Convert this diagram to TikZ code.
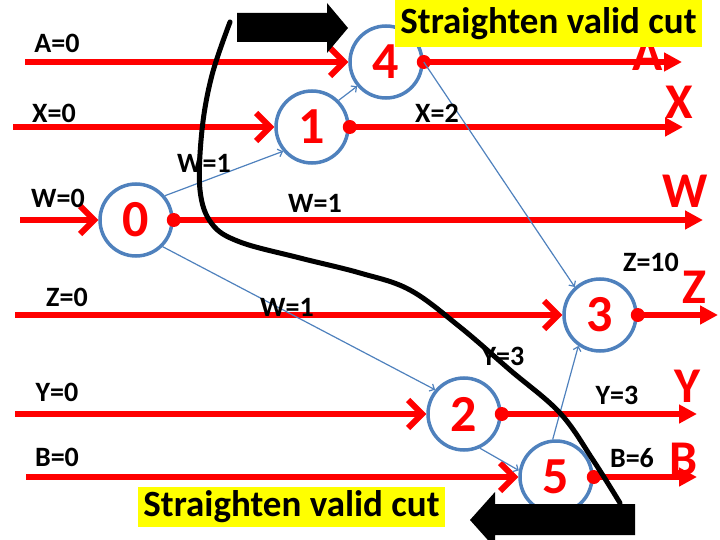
\documentclass[tikz,border=0pt]{standalone}
\usepackage{fontspec}
\setmainfont{Carlito}
\usepackage{tikz}
\usetikzlibrary{arrows.meta}
\definecolor{ringblue}{HTML}{4F81BD}
\definecolor{flowred}{HTML}{FF0000}
\definecolor{notey}{HTML}{FFFF00}

\begin{document}
\begin{tikzpicture}[x=1pt,y=-1pt,
  vertex/.style={circle,draw=ringblue,line width=3.5pt,minimum size=72pt,inner sep=0pt,text=flowred,font=\fontsize{52}{52}\selectfont\bfseries},
  feed/.style={flowred,line width=6pt,-{Straight Barb[length=14pt,width=28pt]}},
  outflow/.style={flowred,line width=6pt,-{Triangle[length=18pt,width=18pt]}},
  dep/.style={ringblue,line width=1.2pt,-{Straight Barb[length=4pt,width=8pt]}},
  lbl/.style={font=\fontsize{28}{28}\selectfont\bfseries,inner sep=0pt},
  var/.style={text=flowred,font=\fontsize{50}{50}\selectfont\bfseries,inner sep=0pt},
  note/.style={fill=notey,minimum width=307pt,inner sep=0pt,font=\fontsize{37}{37}\selectfont\bfseries}]
  \useasboundingbox (0,0) rectangle (720,540);
  % operators
  \node[vertex] (n0) at (136,220) {0};
  \node[vertex] (n1) at (312,127) {1};
  \node[vertex] (n4) at (386,62) {4};
  \node[vertex] (n3) at (600,315) {3};
  \node[vertex] (n2) at (464,414) {2};
  \node[vertex] (n5) at (556,477) {5};
  % red wires: in, out, dot
  \foreach \n/\s/\e in {4/25/682,1/13/683,0/20/703,3/15/718,2/15/697,5/26/697} {
    \coordinate (in\n) at (\s,0 |- n\n);
    \coordinate (out\n) at (\e,0 |- n\n);
    \draw[feed] (in\n) -- (n\n);
    \draw[outflow] (n\n.east) -- (out\n);
    \fill[flowred] (n\n.east) circle (7pt);
  }
  % dependencies
  \draw[dep] (n0.40) -- (n1.220);
  \draw[dep] (n0.-45) -- (n2.140);
  \draw[dep] (n1.45) -- (n4.220);
  \draw[dep] (n4.east) -- (n3.132);
  \draw[dep] (n2.-65) -- (n5.170);
  \draw[dep] (n5.95) -- (n3.235);
  % values
  \node[lbl] (vA0) at (57,43) {A=0};
  \node[lbl] (vX0) at (54,113) {X=0};
  \node[lbl] (vW0) at (58,198) {W=0};
  \node[lbl] (vZ0) at (67,297) {Z=0};
  \node[lbl] (vY0) at (57,392) {Y=0};
  \node[lbl] (vB0) at (57,457) {B=0};
  \node[lbl] (vW1a) at (204,163) {W=1};
  \node[lbl] (vW1b) at (315,203) {W=1};
  \node[lbl] (vW1c) at (287,307) {W=1};
  \node[lbl] (vX2) at (437,113) {X=2};
  \node[lbl] (vZ10) at (651,262) {Z=10};
  \node[lbl] (vY3a) at (503,356) {Y=3};
  \node[lbl] (vY3b) at (617,395) {Y=3};
  \node[lbl] (vB6) at (632,458) {B=6};
  % wire names
  \node[var] (tA) at (648,54) {A};
  \node[var] (tX) at (679,102) {X};
  \node[var] (tW) at (685,191) {W};
  \node[var] (tZ) at (694,287) {Z};
  \node[var] (tY) at (687,386) {Y};
  \node[var] (tB) at (684,459) {B};
  % the cut
  \draw[line width=5pt,line cap=round] plot[smooth,tension=0.6] coordinates {(230,22) (212,75) (202,130) (200,190) (212,224) (240,242) (300,258) (360,273) (410,290) (460,327) (510,370) (560,413) (593,460) (620,503)};
  \fill (237,13) -- (327,13) -- (327,3) -- (348,28) -- (327,53) -- (327,42) -- (237,42) -- cycle;
  \fill (635,504) -- (495,504) -- (495,492) -- (470,520) -- (495,548) -- (495,535) -- (635,535) -- cycle;
  \node[note,minimum height=47pt] (cutTop) at (548.5,23.5) {Straighten valid cut};
  \node[note,minimum height=40pt] (cutBot) at (291.5,507) {Straighten valid cut};
\end{tikzpicture}
\end{document}
